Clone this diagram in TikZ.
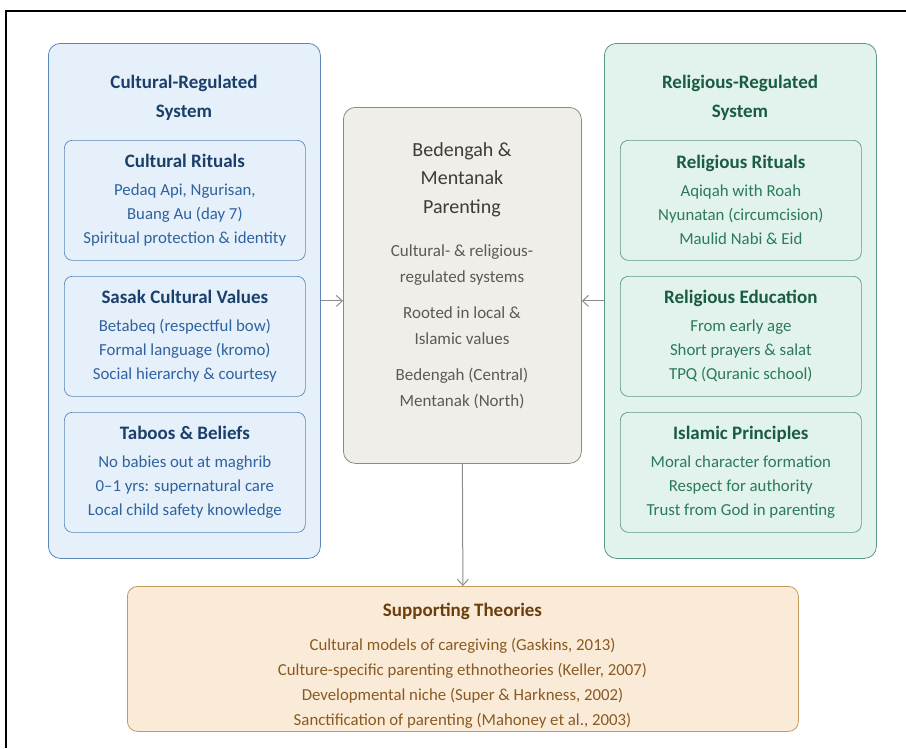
\documentclass[tikz,border=0pt]{standalone}
\usepackage{fontspec}
\setmainfont{Carlito}
\usetikzlibrary{arrows.meta, positioning}
\definecolor{cult-fill}{HTML}{E6F0FA}
\definecolor{cult-line}{HTML}{5B86B8}
\definecolor{cult-head}{HTML}{1B3F6B}
\definecolor{cult-text}{HTML}{2F62A0}
\definecolor{rel-fill}{HTML}{E1F3EC}
\definecolor{rel-line}{HTML}{5A9A7E}
\definecolor{rel-head}{HTML}{1A5C42}
\definecolor{rel-text}{HTML}{2C7A58}
\definecolor{core-fill}{HTML}{F0EEE9}
\definecolor{core-line}{HTML}{8A8A8A}
\definecolor{core-head}{HTML}{3C3C3C}
\definecolor{core-text}{HTML}{5A5A5A}
\definecolor{theo-fill}{HTML}{FAEBD8}
\definecolor{theo-line}{HTML}{C49A5A}
\definecolor{theo-head}{HTML}{6B3E0E}
\definecolor{theo-text}{HTML}{8A5A20}
\definecolor{arrow-gray}{HTML}{8C8C8C}
\newcommand{\subheadfont}{\fontsize{19}{24}\selectfont\bfseries}
\newcommand{\coreheadfont}{\fontsize{20}{29}\selectfont\color{core-head}}

\begin{document}
\begin{tikzpicture}[x=1pt, y=-1pt,
    syswrap/.style={draw, rounded corners=12pt, line width=0.8pt,
      minimum width=272pt, minimum height=515pt, anchor=north west, inner sep=0pt},
    systitle/.style={align=center, font=\fontsize{19}{29}\selectfont\bfseries},
    subbox/.style={draw, rounded corners=8pt, line width=0.7pt,
      minimum width=241pt, minimum height=120pt, anchor=north west,
      align=center, inner sep=0pt, font=\fontsize{16.8}{24}\selectfont},
    link/.style={-{Straight Barb[length=6pt, width=11pt]}, draw=arrow-gray, line width=1pt}]
  \useasboundingbox (0,0) rectangle (906,748);
  \draw[line width=2pt] (6,748) -- (6,11) -- (906,11);

  \node[syswrap, draw=cult-line, fill=cult-fill] (cultsys) at (48,43) {};
  \node[systitle, text=cult-head] (culttitle) at (184,98) {Cultural-Regulated\\System};
  \node[subbox, draw=cult-line, fill=cult-fill, text=cult-text] (cultrit) at (64,140)
    {{\subheadfont\color{cult-head}Cultural Rituals}\\[4pt]
     Pedaq Api, Ngurisan,\\Buang Au (day 7)\\Spiritual protection \& identity};
  \node[subbox, draw=cult-line, fill=cult-fill, text=cult-text] (cultval) at (64,276)
    {{\subheadfont\color{cult-head}Sasak Cultural Values}\\[4pt]
     Betabeq (respectful bow)\\Formal language (kromo)\\Social hierarchy \& courtesy};
  \node[subbox, draw=cult-line, fill=cult-fill, text=cult-text] (cultbel) at (64,412)
    {{\subheadfont\color{cult-head}Taboos \& Beliefs}\\[4pt]
     No babies out at maghrib\\0–1 yrs: supernatural care\\Local child safety knowledge};

  \node[syswrap, draw=rel-line, fill=rel-fill] (relsys) at (604,43) {};
  \node[systitle, text=rel-head] (reltitle) at (740,98) {Religious-Regulated\\System};
  \node[subbox, draw=rel-line, fill=rel-fill, text=rel-text] (relrit) at (620,140)
    {{\subheadfont\color{rel-head}Religious Rituals}\\[4pt]
     Aqiqah with Roah\\Nyunatan (circumcision)\\Maulid Nabi \& Eid};
  \node[subbox, draw=rel-line, fill=rel-fill, text=rel-text] (reledu) at (620,276)
    {{\subheadfont\color{rel-head}Religious Education}\\[4pt]
     From early age\\Short prayers \& salat\\TPQ (Quranic school)};
  \node[subbox, draw=rel-line, fill=rel-fill, text=rel-text] (relpri) at (620,412)
    {{\subheadfont\color{rel-head}Islamic Principles}\\[4pt]
     Moral character formation\\Respect for authority\\Trust from God in parenting};

  \node[draw=core-line, fill=core-fill, rounded corners=12pt, line width=0.8pt,
        minimum width=238pt, minimum height=356pt, anchor=north west] (core) at (343,107) {};
  \node[align=center, anchor=north, text=core-text, font=\fontsize{17}{25.5}\selectfont] (coretext) at (462,139)
    {{\coreheadfont Bedengah \&}\\[3pt]
     {\coreheadfont Mentanak}\\[3pt]
     {\coreheadfont Parenting}\\[18pt]
     Cultural- \& religious-\\regulated systems\\[11pt]
     Rooted in local \&\\Islamic values\\[11pt]
     Bedengah (Central)\\Mentanak (North)};

  \node[draw=theo-line, fill=theo-fill, rounded corners=10pt, line width=0.8pt,
        minimum width=671pt, minimum height=145pt, anchor=north west] (theory) at (127,586) {};
  \node[align=center, anchor=north, text=theo-text, font=\fontsize{16.8}{25}\selectfont] (theorytext) at (462.5,600)
    {{\fontsize{19}{25}\selectfont\bfseries\color{theo-head}Supporting Theories}\\[9pt]
     Cultural models of caregiving (Gaskins, 2013)\\
     Culture-specific parenting ethnotheories (Keller, 2007)\\
     Developmental niche (Super \& Harkness, 2002)\\
     Sanctification of parenting (Mahoney et al., 2003)};

  \draw[link] (cultsys.east) -- (cultsys.east -| core.west);
  \draw[link] (relsys.west) -- (relsys.west -| core.east);
  \draw[link] (core.south) -- (theory.north);
\end{tikzpicture}
\end{document}
